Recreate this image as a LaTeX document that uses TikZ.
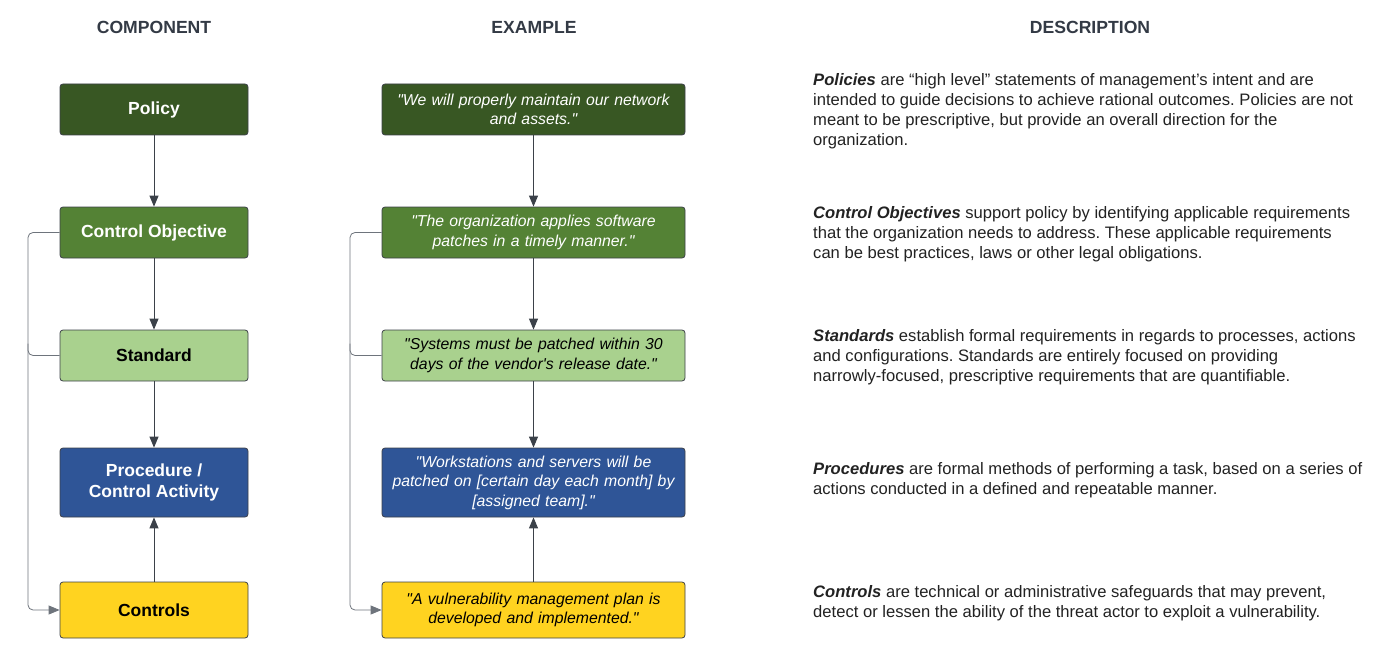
\documentclass[tikz,border=0pt]{standalone}
\usepackage{fontspec}
\setmainfont{Liberation Sans}
\usetikzlibrary{arrows.meta,positioning}
\definecolor{polgreen}{RGB}{56,87,35}
\definecolor{objgreen}{RGB}{84,130,53}
\definecolor{stdgreen}{RGB}{169,209,142}
\definecolor{procblue}{RGB}{47,85,151}
\definecolor{ctlyellow}{RGB}{255,211,32}
\definecolor{boxline}{RGB}{60,64,72}
\definecolor{arrowgray}{RGB}{59,65,73}
\definecolor{sidegray}{RGB}{110,116,124}
\definecolor{headgray}{RGB}{51,58,69}
\definecolor{desctext}{RGB}{34,34,34}
\newcommand{\dq}{\textquotedbl}
\frenchspacing
\begin{document}
\begin{tikzpicture}[x=1pt,y=-1pt,
  box/.style={draw=boxline,line width=0.8pt,rounded corners=3pt,minimum height=51pt,align=center,inner sep=2pt},
  comp/.style={box,minimum width=188pt,font=\fontsize{17.5}{21}\selectfont\bfseries},
  exmp/.style={box,minimum width=303pt,text width=296pt,font=\fontsize{15.8}{19.5}\selectfont\itshape},
  desc/.style={anchor=north west,align=left,inner sep=0pt,text=desctext,font=\fontsize{16.6}{20}\selectfont},
  head/.style={text=headgray,font=\fontsize{17.6}{20}\selectfont\bfseries},
  flow/.style={draw=arrowgray,line width=1pt,-{Triangle[width=9pt,length=11pt]}},
  side/.style={draw=sidegray,line width=0.8pt,rounded corners=5pt,-{Triangle[width=9pt,length=11pt]}},
]
  \useasboundingbox (0,0) rectangle (1400,658);

  %headings
  \node[head] (hcomp) at (154,27) {COMPONENT};
  \node[head] (hexmp) at (534,27) {EXAMPLE};
  \node[head] (hdesc) at (1090,27) {DESCRIPTION};

  %component column
  \node[comp,fill=polgreen,text=white] (pol) at (154,109.5) {Policy};
  \node[comp,fill=objgreen,text=white] (cobj) at (154,232.5) {Control Objective};
  \node[comp,fill=stdgreen,text=black] (std) at (154,355.5) {Standard};
  \node[comp,fill=procblue,text=white,minimum height=69pt] (proc) at (154,482.5) {Procedure /\\Control Activity};
  \node[comp,fill=ctlyellow,text=black,minimum height=56pt] (ctl) at (154,610) {Controls};

  %example column
  \node[exmp,fill=polgreen,text=white] (expol) at (533.5,109.5) {\dq We will properly maintain our network\\and assets.\dq};
  \node[exmp,fill=objgreen,text=white] (excobj) at (533.5,232.5) {\dq The organization applies software\\patches in a timely manner.\dq};
  \node[exmp,fill=stdgreen,text=black] (exstd) at (533.5,355.5) {\dq Systems must be patched within 30\\days of the vendor\textquotesingle s release date.\dq};
  \node[exmp,fill=procblue,text=white,minimum height=69pt] (exproc) at (533.5,482.5) {\dq Workstations and servers will be\\patched on [certain day each month] by\\{}[assigned team].\dq};
  \node[exmp,fill=ctlyellow,text=black,minimum height=56pt] (exctl) at (533.5,610) {\dq A vulnerability management plan is\\developed and implemented.\dq};

  %flow arrows
  \draw[flow] (pol) -- (cobj);
  \draw[flow] (cobj) -- (std);
  \draw[flow] (std) -- (proc);
  \draw[flow] (ctl) -- (proc);
  \draw[flow] (expol) -- (excobj);
  \draw[flow] (excobj) -- (exstd);
  \draw[flow] (exstd) -- (exproc);
  \draw[flow] (exctl) -- (exproc);

  %side links to controls
  \coordinate (lbar) at (28,0);
  \coordinate (mbar) at (350,0);
  \draw[side] (cobj.west) -- (lbar |- cobj.west) -- (lbar |- ctl.west) -- (ctl.west);
  \draw[side,-] (std.west) -- (lbar |- std.west) -- ([yshift=12pt]lbar |- std.west);
  \draw[side] (excobj.west) -- (mbar |- excobj.west) -- (mbar |- exctl.west) -- (exctl.west);
  \draw[side,-] (exstd.west) -- (mbar |- exstd.west) -- ([yshift=12pt]mbar |- exstd.west);

  %descriptions
  \node[desc] (dpol) at (813,73.5) {\textbf{\textit{Policies}} are “high level” statements of management’s intent and are\\intended to guide decisions to achieve rational outcomes. Policies are not\\meant to be prescriptive, but provide an overall direction for the\\organization.};
  \node[desc] (dcobj) at (813,206.5) {\textbf{\textit{Control Objectives}} support policy by identifying applicable requirements\\that the organization needs to address. These applicable requirements\\can be best practices, laws or other legal obligations.};
  \node[desc] (dstd) at (813,329.5) {\textbf{\textit{Standards}} establish formal requirements in regards to processes, actions\\and configurations. Standards are entirely focused on providing\\narrowly-focused, prescriptive requirements that are quantifiable.};
  \node[desc] (dproc) at (813,462.5) {\textbf{\textit{Procedures}} are formal methods of performing a task, based on a series of\\actions conducted in a defined and repeatable manner.};
  \node[desc] (dctl) at (813,585.5) {\textbf{\textit{Controls}} are technical or administrative safeguards that may prevent,\\detect or lessen the ability of the threat actor to exploit a vulnerability.};
\end{tikzpicture}
\end{document}
